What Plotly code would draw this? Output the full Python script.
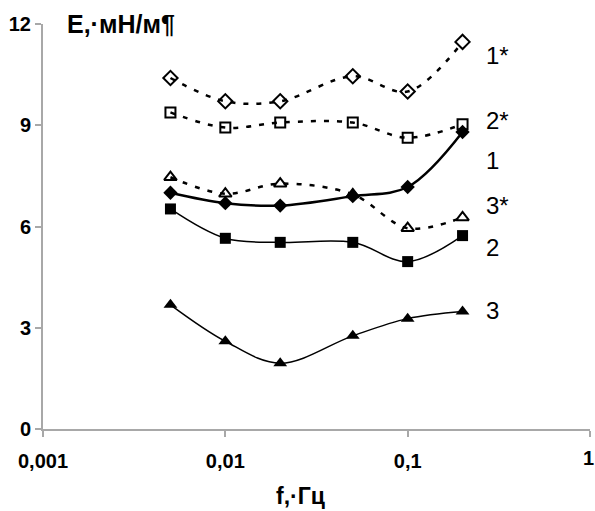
import plotly.graph_objects as go

freq = [0.005, 0.01, 0.02, 0.05, 0.1, 0.2]
s1_star = [10.4, 9.71, 9.71, 10.45, 10.0, 11.47]
s2_star = [9.38, 8.93, 9.08, 9.08, 8.63, 9.03]
s3_star = [7.46, 6.97, 7.27, 6.95, 5.95, 6.27]
s1 = [7.0, 6.69, 6.62, 6.9, 7.17, 8.8]
s2 = [6.52, 5.65, 5.53, 5.53, 4.96, 5.73]
s3 = [3.68, 2.6, 1.95, 2.76, 3.27, 3.48]

labels = ["1*", "2*", "1", "3*", "2", "3"]
label_y = [11.08, 9.15, 7.96, 6.62, 5.38, 3.5]

x_ticks = [0.001, 0.01, 0.1, 1]
x_ticktext = ["0,001", "0,01", "0,1", ""]
last_tick_text = "1"
y_ticks = [0, 3, 6, 9, 12]

FONT = "Liberation Sans, Arial"
fig = go.Figure()

dash = "5px,8px"
fig.add_trace(go.Scatter(x=freq, y=s1_star, mode="lines+markers",
    line=dict(color="black", width=2.5, dash=dash, shape="spline", smoothing=1),
    marker=dict(symbol="diamond-open", size=11, color="black", line=dict(width=2))))
fig.add_trace(go.Scatter(x=freq, y=s2_star, mode="lines+markers",
    line=dict(color="black", width=2.5, dash=dash, shape="spline", smoothing=1),
    marker=dict(symbol="square-open", size=10, color="black", line=dict(width=2))))
fig.add_trace(go.Scatter(x=freq, y=s3_star, mode="lines+markers",
    line=dict(color="black", width=2.5, dash=dash, shape="spline", smoothing=1),
    marker=dict(symbol="triangle-up-open", size=11, color="black", line=dict(width=2))))
fig.add_trace(go.Scatter(x=freq, y=s1, mode="lines+markers",
    line=dict(color="black", width=2.5, shape="spline", smoothing=1),
    marker=dict(symbol="diamond", size=11, color="black")))
fig.add_trace(go.Scatter(x=freq, y=s2, mode="lines+markers",
    line=dict(color="black", width=1.5, shape="spline", smoothing=1),
    marker=dict(symbol="square", size=11, color="black")))
fig.add_trace(go.Scatter(x=freq, y=s3, mode="lines+markers",
    line=dict(color="black", width=1.5, shape="spline", smoothing=1),
    marker=dict(symbol="triangle-up", size=12, color="black")))

PW = 547  # plot width in px
PH = 405  # plot height in px
X0 = 43   # left edge of plot in window px
Y0 = 429  # bottom of plot in window px

for lab, ly in zip(labels, label_y):
    fig.add_annotation(x=(484 - X0) / PW, xref="paper", y=ly, yref="y", text=lab,
                       showarrow=False, xanchor="left", yanchor="middle",
                       font=dict(family=FONT, size=24, color="black"))

fig.add_annotation(x=(65 - X0) / PW, xref="paper", y=1.0, yref="paper", text="<b>E,·мН/м¶</b>",
                   showarrow=False, xanchor="left", yanchor="middle",
                   font=dict(family=FONT, size=25, color="black"))

fig.add_annotation(x=(300 - X0) / PW, xref="paper", y=-(496 - Y0) / PH, yref="paper",
                   text="<b>f,·Гц</b>",
                   showarrow=False, xanchor="center", yanchor="middle",
                   font=dict(family=FONT, size=23, color="black"))

# the last x tick label sits at the window edge; place it so it stays visible
fig.add_annotation(x=(595 - X0) / PW, xref="paper", y=-(458 - Y0) / PH, yref="paper",
                   text="<b>%s</b>" % last_tick_text,
                   showarrow=False, xanchor="right", yanchor="middle", borderpad=0,
                   font=dict(family=FONT, size=20, color="black"))

fig.update_layout(
    width=595, height=511,
    margin=dict(l=43, r=5, t=24, b=82),
    paper_bgcolor="white", plot_bgcolor="white",
    showlegend=False,
    font=dict(family=FONT, color="black"),
    xaxis=dict(type="log", range=[-3, 0], tickvals=x_ticks, ticktext=x_ticktext,
               automargin=False, ticklabeloverflow="allow",
               showgrid=False, zeroline=False, showline=True, linecolor="#a8a8a8", linewidth=2,
               ticks="outside", ticklen=6, tickcolor="#a8a8a8", tickwidth=1.5,
               tickfont=dict(size=20, family=FONT, color="black", weight="bold"),
               ticklabelstandoff=7),
    yaxis=dict(range=[0, 12], tickvals=y_ticks, automargin=False,
               showgrid=False, zeroline=False, showline=True, linecolor="#a8a8a8", linewidth=2,
               ticks="outside", ticklen=6, tickcolor="#a8a8a8", tickwidth=1.5,
               tickfont=dict(size=20, family=FONT, color="black", weight="bold")),
)

fig.write_html("out.html", config={"displayModeBar": False},
               post_script="document.body.style.margin='0';document.body.style.overflow='hidden';")
